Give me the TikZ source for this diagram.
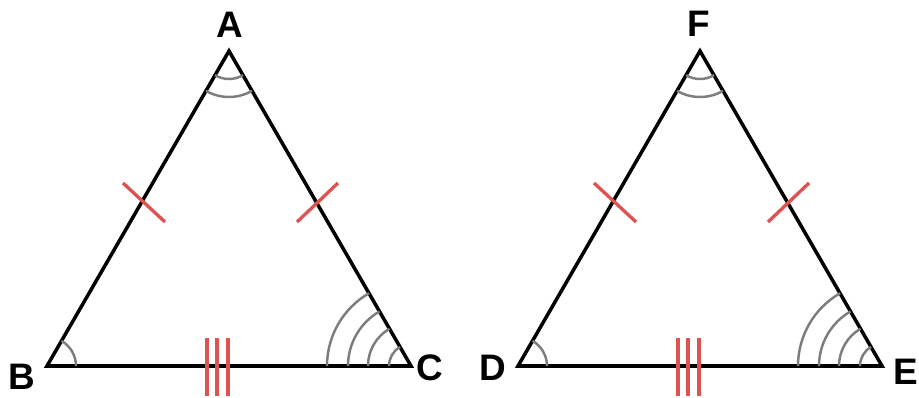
\documentclass[tikz,border=0pt]{standalone}
\usepackage{fontspec}
\setmainfont{Liberation Sans}
\usepackage{xcolor}
\definecolor{tickred}{RGB}{222,82,82}
\definecolor{arcgray}{RGB}{125,125,125}

\begin{document}
\begin{tikzpicture}[x=0.02cm,y=-0.02cm,
  side/.style={line width=2pt,black,line join=miter},
  tickmark/.style={line width=1.9pt,tickred},
  angarc/.style={line width=1.4pt,arcgray},
  lab/.style={font=\fontsize{21}{25}\selectfont\bfseries,inner sep=0pt}]
  \useasboundingbox (0,0) rectangle (919,398);
  % two congruent triangles, the second shifted to the right
  \foreach \s/\pa/\pb/\pc in {0/A/B/C,471/F/D/E}{
    \begin{scope}[shift={(\s,0)}]
      \coordinate (\pa) at (229,51);
      \coordinate (\pb) at (47,366);
      \coordinate (\pc) at (411,366);
      \draw[side] (\pa) -- (\pb) -- (\pc) -- cycle;
      % equal sides
      \draw[tickmark] (123,183) -- (165,222);
      \draw[tickmark] (297,222) -- (338,183);
      \foreach \x in {207,217,228}
        \draw[tickmark] (\x,338) -- (\x,396);
      % angles
      \foreach \r in {28,46}
        \draw[angarc] (\pa) ++(60:\r) arc[start angle=60,end angle=120,radius=\r];
      \draw[angarc] (\pb) ++(300:29) arc[start angle=300,end angle=360,radius=29];
      \foreach \r in {22,43,63,84}
        \draw[angarc] (\pc) ++(180:\r) arc[start angle=180,end angle=240,radius=\r];
    \end{scope}
  }
  \node[lab] (lA) at (230,25) {A};
  \node[lab] (lB) at (22,377) {B};
  \node[lab] (lC) at (430,368) {C};
  \node[lab] (lF) at (699,24) {F};
  \node[lab] (lD) at (493,368) {D};
  \node[lab] (lE) at (906,372) {E};
\end{tikzpicture}
\end{document}
